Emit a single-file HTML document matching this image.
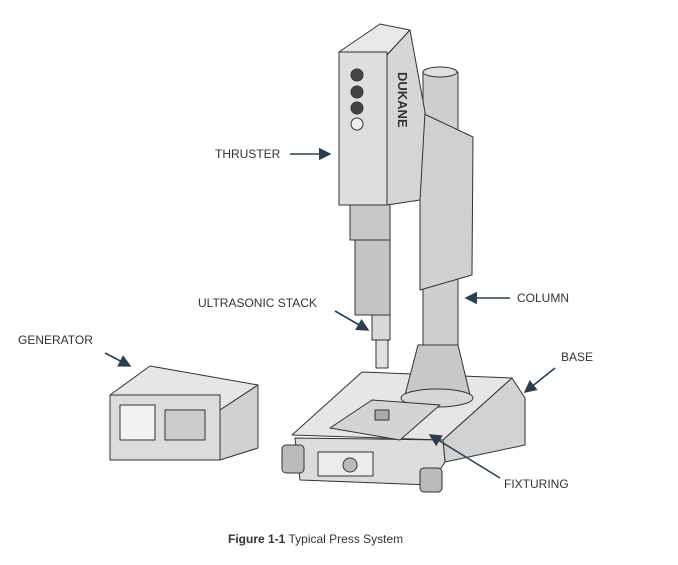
<!DOCTYPE html>
<html><head><style>
body{margin:0;background:#fff;width:678px;height:560px;overflow:hidden;font-family:"Liberation Sans",sans-serif}
</style></head><body>
<svg width="678" height="560" viewBox="0 0 678 560" xmlns="http://www.w3.org/2000/svg">
<defs><marker id="a" markerWidth="8" markerHeight="8" refX="7" refY="4" orient="auto"><path d="M0,0 L8,4 L0,8 z" fill="#2e3e4e"/></marker></defs>
<g stroke="#333" stroke-width="1" stroke-linejoin="round">
<!-- column -->
<rect x="423" y="72" width="35" height="280" fill="#cfcfcf"/>
<ellipse cx="440" cy="72" rx="17" ry="5" fill="#e0e0e0"/>
<!-- base -->
<polygon points="292,435 362,372 512,378 443,440" fill="#e6e6e6"/>
<polygon points="443,440 512,378 525,398 525,445 445,462" fill="#d2d2d2"/>
<polygon points="295,438 443,440 445,462 430,485 300,480" fill="#dcdcdc"/>
<rect x="318" y="452" width="55" height="24" fill="#ececec"/>
<circle cx="350" cy="465" r="7" fill="#bbb"/>
<rect x="282" y="445" width="22" height="28" fill="#bbb" rx="4"/>
<rect x="420" y="468" width="22" height="24" fill="#bbb" rx="4"/>
<!-- cone -->
<polygon points="418,345 458,345 470,395 405,395" fill="#c8c8c8"/>
<ellipse cx="437" cy="398" rx="36" ry="9" fill="#d6d6d6"/>
<!-- fixture -->
<polygon points="330,428 372,400 440,405 400,440" fill="#d4d4d4"/>
<rect x="375" y="410" width="14" height="10" fill="#aaa"/>
<!-- carriage panel -->
<polygon points="420,112 473,137 472,275 420,290" fill="#d0d0d0"/>
<!-- stack -->
<rect x="350" y="198" width="40" height="42" fill="#c8c8c8"/>
<rect x="355" y="240" width="35" height="75" fill="#c4c4c4"/>
<rect x="372" y="315" width="18" height="25" fill="#d8d8d8"/>
<rect x="376" y="340" width="12" height="28" fill="#e0e0e0"/>
<!-- thruster -->
<polygon points="339,52 380,24 410,30 387,55" fill="#e8e8e8"/>
<polygon points="387,55 410,30 425,112 420,200 387,205" fill="#d6d6d6"/>
<rect x="339" y="52" width="48" height="153" fill="#dedede"/>
<circle cx="357" cy="75" r="6" fill="#444"/><circle cx="357" cy="92" r="6" fill="#444"/><circle cx="357" cy="108" r="6" fill="#444"/><circle cx="357" cy="124" r="6" fill="#eee"/>
<!-- generator -->
<polygon points="110,395 150,366 258,385 220,410" fill="#e6e6e6"/>
<polygon points="220,410 258,385 258,448 220,460" fill="#d0d0d0"/>
<rect x="110" y="395" width="110" height="65" fill="#dcdcdc"/>
<rect x="120" y="405" width="35" height="35" fill="#f2f2f2"/>
<rect x="165" y="410" width="40" height="30" fill="#ccc"/>
</g>
<text x="398" y="72" font-size="13" font-weight="bold" fill="#333" transform="rotate(90 398 72)">DUKANE</text>
<g stroke="#2e3e4e" stroke-width="1.6" fill="none" marker-end="url(#a)">
<line x1="290" y1="154" x2="330" y2="154"/>
<line x1="335" y1="311" x2="368" y2="330"/>
<line x1="510" y1="298" x2="466" y2="298"/>
<line x1="105" y1="353" x2="130" y2="366"/>
<line x1="555" y1="368" x2="525" y2="392"/>
<line x1="500" y1="478" x2="430" y2="435"/>
</g>
<g font-size="12" fill="#333">
<text x="215" y="158">THRUSTER</text>
<text x="198" y="307">ULTRASONIC STACK</text>
<text x="517" y="302">COLUMN</text>
<text x="18" y="344">GENERATOR</text>
<text x="561" y="361">BASE</text>
<text x="504" y="488">FIXTURING</text>
<text x="228" y="543" font-size="12"><tspan font-weight="bold">Figure 1-1</tspan>  Typical Press System</text>
</g>
</svg>
</body></html>
